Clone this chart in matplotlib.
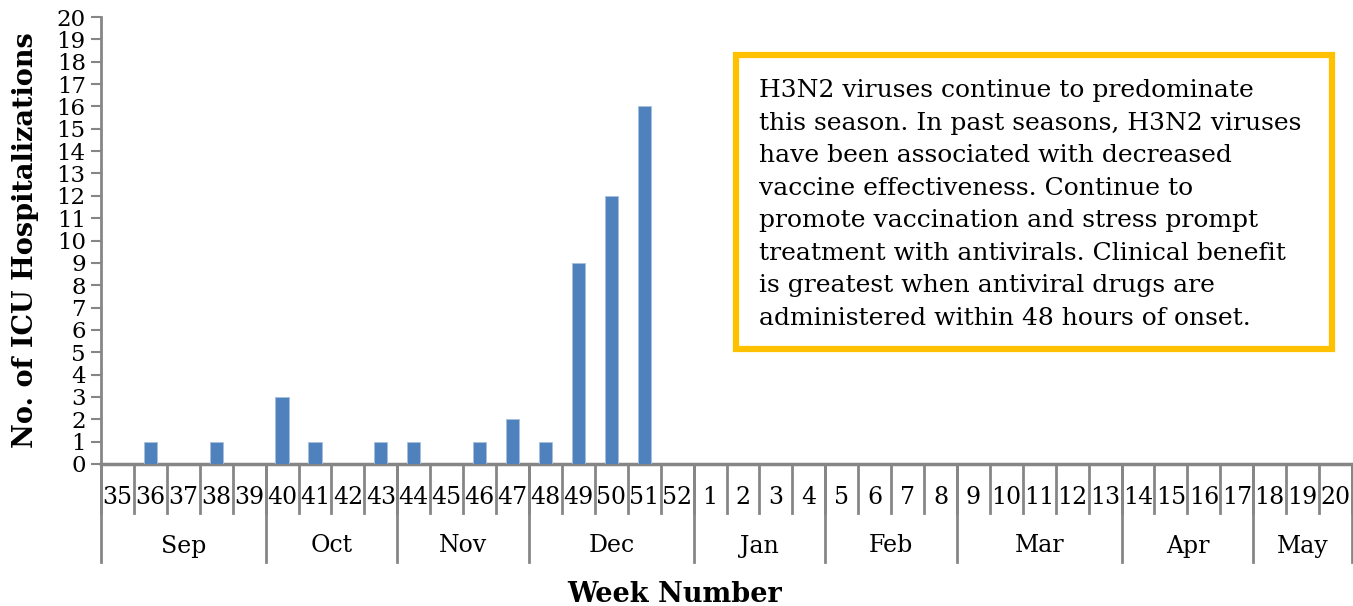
import matplotlib.pyplot as plt
from matplotlib.patches import FancyBboxPatch

plt.rcParams['font.family'] = ['DejaVu Serif']

# Data
weeks = [35, 36, 37, 38, 39, 40, 41, 42, 43, 44, 45, 46, 47, 48, 49, 50, 51, 52,
         1, 2, 3, 4, 5, 6, 7, 8, 9, 10, 11, 12, 13, 14, 15, 16, 17, 18, 19, 20]
icu_counts = [0, 1, 0, 1, 0, 3, 1, 0, 1, 1, 0, 1, 2, 1, 9, 12, 16, 0,
              0, 0, 0, 0, 0, 0, 0, 0, 0, 0, 0, 0, 0, 0, 0, 0, 0, 0, 0, 0]
months = ['Sep', 'Oct', 'Nov', 'Dec', 'Jan', 'Feb', 'Mar', 'Apr', 'May']
weeks_per_month = [5, 4, 4, 5, 4, 4, 5, 4, 3]

note = ("H3N2 viruses continue to predominate\n"
        "this season. In past seasons, H3N2 viruses\n"
        "have been associated with decreased\n"
        "vaccine effectiveness. Continue to\n"
        "promote vaccination and stress prompt\n"
        "treatment with antivirals. Clinical benefit\n"
        "is greatest when antiviral drugs are\n"
        "administered within 48 hours of onset.")

axis_grey = '#868686'

fig = plt.figure(figsize=(13.53, 6.06), dpi=100)
ax = fig.add_axes([101 / 1353, (606 - 464) / 606, 1251 / 1353, 447 / 606])

x = list(range(len(weeks)))
ax.bar(x, icu_counts, width=0.4, color='#4F81BD', edgecolor='#A7C0DE', linewidth=0.6, zorder=3)

ax.set_xlim(-0.5, len(weeks) - 0.5)
ax.set_ylim(0, 20)
ax.set_yticks(range(0, 21))
ax.tick_params(axis='y', labelsize=16.5, length=7, width=1.5, color=axis_grey, pad=4)
ax.set_xticks([])

for side in ['top', 'right', 'bottom']:
    ax.spines[side].set_visible(False)
ax.spines['left'].set_color(axis_grey)
ax.spines['left'].set_linewidth(2)

# multi-level category axis
tr = ax.get_xaxis_transform()
ax.plot([-0.5, len(weeks) - 0.5], [0, 0], color=axis_grey, lw=2.5, transform=tr, clip_on=False)
week_depth = -49 / 447
month_depth = -98 / 447
for i in range(len(weeks) + 1):
    ax.plot([i - 0.5, i - 0.5], [0, week_depth], color=axis_grey, lw=2, transform=tr, clip_on=False)
for i, w in enumerate(weeks):
    ax.text(i, -33 / 447, str(w), transform=tr, ha='center', va='center', fontsize=17)

start = 0
bounds = [0]
for m, n in zip(months, weeks_per_month):
    ax.text(start + n / 2 - 0.5, -82 / 447, m, transform=tr, ha='center', va='center', fontsize=17)
    start += n
    bounds.append(start)
for b in bounds:
    ax.plot([b - 0.5, b - 0.5], [0, month_depth], color=axis_grey, lw=2, transform=tr, clip_on=False)

ax.set_ylabel('No. of ICU Hospitalizations', fontsize=19.5, fontweight='bold')
ax.yaxis.set_label_coords(-62 / 1251, 0.50)
fig.text(675 / 1353, 1 - 594 / 606, 'Week Number', ha='center', va='center',
         fontsize=19.5, fontweight='bold')

# annotation box
box = FancyBboxPatch((736 / 1353, 1 - 349 / 606), 596 / 1353, 294 / 606,
                     boxstyle='square,pad=0', transform=fig.transFigure,
                     facecolor='white', edgecolor='#FFC000', linewidth=4.5, zorder=5)
fig.patches.append(box)
fig.text(759 / 1353, 1 - 325 / 606, note, ha='left', va='baseline', fontsize=18,
         linespacing=1.53, zorder=6)

fig.savefig('out.png', dpi=100)
